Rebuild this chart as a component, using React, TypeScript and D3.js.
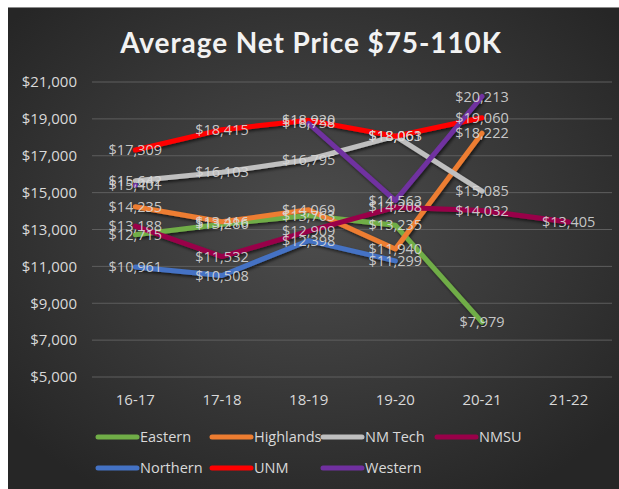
import { useEffect, useRef } from 'react'
import * as d3 from 'd3'

const years = ['16-17', '17-18', '18-19', '19-20', '20-21', '21-22']
const yTicks = [5000, 7000, 9000, 11000, 13000, 15000, 17000, 19000, 21000]

const schools = ['Eastern', 'Highlands', 'NM Tech', 'NMSU', 'Northern', 'UNM', 'Western']
const colors = ['#70ad47', '#ed7d31', '#bfbfbf', '#990049', '#4472c4', '#ff0000', '#7030a0']

const eastern = [12715, 13286, 13763, 13235, 7979, null]
const highlands = [14235, 13416, 14069, 11940, 18222, null]
const nmTech = [15642, 16103, 16795, 18063, 15085, null]
const nmsu = [13188, 11532, 12909, 14208, 14032, 13405]
const northern = [10961, 10508, 12398, 11299, null, null]
const unm = [17309, 18415, 18920, 18061, 19060, null]
const western = [15401, null, 18758, 14563, 20213, null]

const series = [eastern, highlands, nmTech, nmsu, northern, unm, western]

const W = 619
const H = 489

const Chart = () => {
    const ref = useRef<SVGSVGElement | null>(null)

    useEffect(() => {
        if (!ref.current) return
        const svg = d3.select(ref.current)
        svg.selectAll('*').remove()
        svg.attr('width', W).attr('height', H)

        const defs = svg.append('defs')
        const grad = defs.append('radialGradient').attr('id', 'bg')
            .attr('cx', '50%').attr('cy', '45%').attr('r', '65%')
        grad.append('stop').attr('offset', '0%').attr('stop-color', '#4d4d4d')
        grad.append('stop').attr('offset', '100%').attr('stop-color', '#262626')
        const shadow = defs.append('filter').attr('id', 'sh')
            .attr('x', '-10%').attr('y', '-10%').attr('width', '120%').attr('height', '130%')
        shadow.append('feDropShadow').attr('dx', 1.5).attr('dy', 2).attr('stdDeviation', 1.5)
            .attr('flood-color', '#000').attr('flood-opacity', 0.6)

        svg.append('rect').attr('width', W).attr('height', H).attr('fill', '#fff')
        svg.append('rect').attr('x', 8).attr('y', 7).attr('width', W - 8).attr('height', H - 7)
            .attr('fill', 'url(#bg)')
        svg.append('line').attr('x1', 8).attr('x2', W).attr('y1', 7.5).attr('y2', 7.5)
            .attr('stroke', '#8a8a8a').attr('stroke-width', 1)

        const font = "'Open Sans', 'Liberation Sans', sans-serif"

        svg.append('text').attr('x', 311).attr('y', 53).attr('text-anchor', 'middle')
            .attr('font-family', "Lato, 'Open Sans', sans-serif").attr('font-weight', 'bold')
            .attr('font-size', 28).attr('fill', '#f2f2f2').attr('letter-spacing', 0.9)
            .text('Average Net Price $75-110K')

        const x = d3.scaleBand().domain(years).range([92, 612])
        const y = d3.scaleLinear().domain([5000, 21000]).range([377, 82])
        const cx = (i: number) => x(years[i])! + x.bandwidth() / 2

        const grid = svg.append('g')
        grid.selectAll('line').data(yTicks).join('line')
            .attr('x1', 92).attr('x2', 612)
            .attr('y1', d => y(d)).attr('y2', d => y(d))
            .attr('stroke', '#5e5e5e').attr('stroke-width', 1)

        const fmt = d3.format('$,')
        svg.append('g').selectAll('text').data(yTicks).join('text')
            .attr('x', 77).attr('y', d => y(d)).attr('dy', '0.35em')
            .attr('text-anchor', 'end').attr('font-family', font).attr('font-size', 15)
            .attr('fill', '#d9d9d9').text(d => fmt(d))

        svg.append('g').selectAll('text').data(years).join('text')
            .attr('x', (_, i) => cx(i)).attr('y', 400).attr('dy', '0.35em')
            .attr('text-anchor', 'middle').attr('font-family', font).attr('font-size', 15)
            .attr('fill', '#d9d9d9').text(d => d)

        const line = d3.line<number | null>()
            .defined(d => d != null)
            .x((_, i) => cx(i))
            .y(d => y(d as number))

        const lines = svg.append('g').attr('filter', 'url(#sh)')
        series.forEach((s, k) => {
            lines.append('path').attr('d', line(s)!).attr('fill', 'none')
                .attr('stroke', colors[k]).attr('stroke-width', 5)
                .attr('stroke-linejoin', 'round').attr('stroke-linecap', 'round')
        })

        const labels = svg.append('g')
        series.forEach(s => {
            s.forEach((v, i) => {
                if (v == null) return
                labels.append('text').attr('x', cx(i)).attr('y', y(v)).attr('dy', '0.35em')
                    .attr('text-anchor', 'middle').attr('font-family', font).attr('font-size', 14.5)
                    .attr('fill', '#d9d9d9').attr('fill-opacity', 0.9).text(fmt(v))
            })
        })

        const legX = [98, 212, 323, 437]
        const legend = svg.append('g')
        schools.forEach((name, k) => {
            const lx = legX[k % 4]
            const ly = k < 4 ? 437 : 468
            legend.append('line').attr('x1', lx).attr('x2', lx + 39)
                .attr('y1', ly).attr('y2', ly).attr('stroke', colors[k])
                .attr('stroke-width', 5).attr('stroke-linecap', 'round')
            legend.append('text').attr('x', lx + 42).attr('y', ly).attr('dy', '0.35em')
                .attr('font-family', font).attr('font-size', 14.5)
                .attr('fill', '#d9d9d9').text(name)
        })
    }, [])

    return (
        <div style={{ position: 'fixed', left: 0, top: 0 }}>
            <svg ref={ref}></svg>
        </div>
    )
}

export default function App() {
    return <Chart />
}
